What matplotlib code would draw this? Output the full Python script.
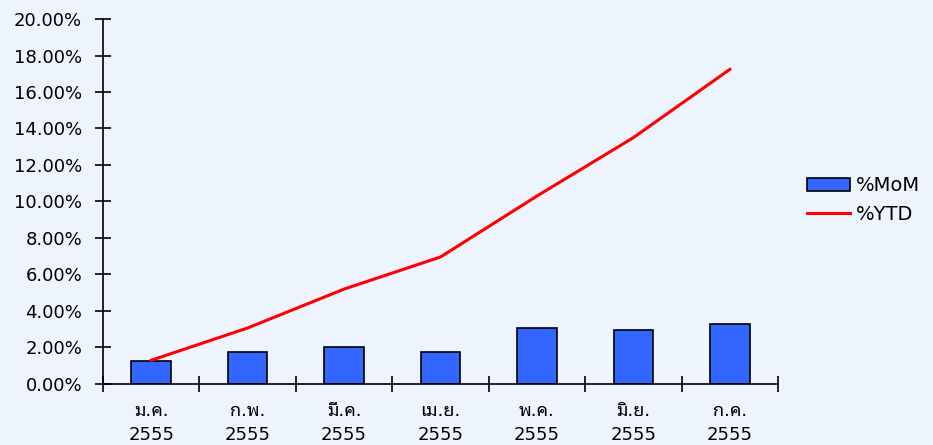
import matplotlib
matplotlib.use('Agg')
import matplotlib.pyplot as plt
from matplotlib.ticker import FuncFormatter

months = ['ม.ค.', 'ก.พ.', 'มี.ค.', 'เม.ย.', 'พ.ค.', 'มิ.ย.', 'ก.ค.']
year = '2555'
mom = [1.28, 1.77, 2.01, 1.77, 3.05, 2.96, 3.31]
ytd = [1.30, 3.07, 5.20, 6.96, 10.30, 13.50, 17.24]

bg = '#eef4fe'
plt.rcParams['font.family'] = ['DejaVu Sans', 'Noto Sans Thai Looped']

fig = plt.figure(figsize=(9.33, 4.45), dpi=100, facecolor=bg)
ax = fig.add_axes([0.1104, 0.1371, 0.7235, 0.8202], facecolor=bg)

x = list(range(len(months)))
bars = ax.bar(x, mom, width=0.41, color='#3366ff', edgecolor='black', linewidth=1.2,
              label='%MoM', zorder=2)
line, = ax.plot(x, ytd, color='#ff0000', linewidth=2.2, label='%YTD', zorder=3)

ax.set_xlim(-0.5, 6.5)
ax.set_ylim(0, 20)
ax.set_yticks(range(0, 21, 2))
ax.yaxis.set_major_formatter(FuncFormatter(lambda v, p: '%.2f%%' % v))

ax.set_xticks([i + 0.5 for i in range(-1, 7)])
ax.set_xticklabels([])
ax.set_xticks(x, minor=True)
ax.set_xticklabels([m + '\n' + year for m in months], minor=True, linespacing=1.45)
ax.tick_params(axis='x', which='minor', length=0, pad=13, labelsize=13)
ax.tick_params(axis='x', which='major', direction='inout', length=12, width=1.2)
ax.tick_params(axis='y', direction='inout', length=12, width=1.2, labelsize=13, pad=9)

for s in ['top', 'right']:
    ax.spines[s].set_visible(False)
ax.spines['left'].set_linewidth(1.2)
ax.spines['bottom'].set_linewidth(1.2)

fig.legend([bars, line], ['%MoM', '%YTD'], loc='center left',
           bbox_to_anchor=(0.846, 0.55), frameon=False,
           fontsize=14, handlelength=2.2, handletextpad=0.3, labelspacing=0.5)

fig.savefig('out.png', dpi=100, facecolor=bg)
